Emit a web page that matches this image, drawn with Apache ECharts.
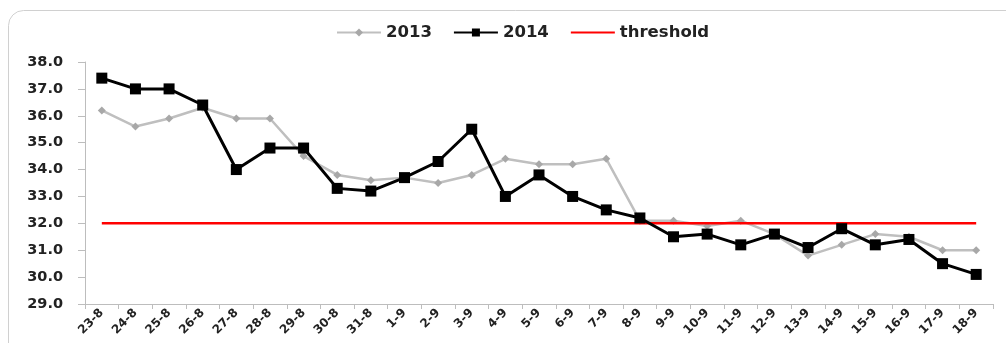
<!DOCTYPE html>
<html>
<head>
<meta charset="utf-8">
<script src="https://cdn.jsdelivr.net/npm/echarts@6/dist/echarts.min.js"></script>
<style>html,body{margin:0;padding:0;background:#fff}#c{width:1006px;height:343px}</style>
</head>
<body>
<div id="c"></div>
<script>
const categories = ['23-8','24-8','25-8','26-8','27-8','28-8','29-8','30-8','31-8','1-9','2-9','3-9','4-9','5-9','6-9','7-9','8-9','9-9','10-9','11-9','12-9','13-9','14-9','15-9','16-9','17-9','18-9'];
const values2013 = [36.2,35.6,35.9,36.3,35.9,35.9,34.5,33.8,33.6,33.7,33.5,33.8,34.4,34.2,34.2,34.4,32.1,32.1,31.9,32.1,31.6,30.8,31.2,31.6,31.5,31.0,31.0];
const values2014 = [37.4,37.0,37.0,36.4,34.0,34.8,34.8,33.3,33.2,33.7,34.3,35.5,33.0,33.8,33.0,32.5,32.2,31.5,31.6,31.2,31.6,31.1,31.8,31.2,31.4,30.5,30.1];
const thresholdValues = [32,32,32,32,32,32,32,32,32,32,32,32,32,32,32,32,32,32,32,32,32,32,32,32,32,32,32];
const yTicks = {min: 29, max: 38, interval: 1};

const chart = echarts.init(document.getElementById('c'), null, {renderer: 'canvas'});
const font = 'DejaVu Sans';
chart.setOption({
  animation: false,
  graphic: [{
    type: 'rect', z: -10,
    shape: {x: 8.5, y: 10.5, width: 1020, height: 360, r: 15},
    style: {fill: '#fff', stroke: '#d0d0d0', lineWidth: 1}
  }],
  legend: {
    top: 19, left: 331,
    itemWidth: 44, itemHeight: 10, itemGap: 21,
    textStyle: {fontFamily: font, fontWeight: 'bold', fontSize: 16.5, color: '#222'},
    data: ['2013', '2014', {name: 'threshold', itemStyle: {color: 'transparent', borderWidth: 0}}]
  },
  grid: {left: 85, right: 13, top: 62, bottom: 39, containLabel: false},
  xAxis: {
    type: 'category', data: categories, boundaryGap: true,
    axisLine: {lineStyle: {color: '#bdbdbd', width: 1}},
    axisTick: {show: true, length: 5, lineStyle: {color: '#bdbdbd'}},
    axisLabel: {rotate: 45, interval: 0, margin: 7, fontFamily: font, fontWeight: 'bold', fontSize: 12, color: '#222'}
  },
  yAxis: {
    type: 'value', min: yTicks.min, max: yTicks.max, interval: yTicks.interval,
    splitLine: {show: false},
    axisLine: {show: true, lineStyle: {color: '#bdbdbd', width: 1}},
    axisTick: {show: true, length: 7, lineStyle: {color: '#bdbdbd'}},
    axisLabel: {margin: 22, fontFamily: font, fontWeight: 'bold', fontSize: 14.5, color: '#222',
      formatter: v => v.toFixed(1)}
  },
  series: [
    {name: '2013', type: 'line', data: values2013, z: 2,
     symbol: 'diamond', symbolSize: 8, showAllSymbol: true,
     lineStyle: {color: '#bfbfbf', width: 2.5},
     itemStyle: {color: '#a8a8a8'}},
    {name: 'threshold', type: 'line', data: thresholdValues, z: 3,
     symbol: 'none', lineStyle: {color: '#ff0000', width: 2.5},
     itemStyle: {color: '#ff0000'}},
    {name: '2014', type: 'line', data: values2014, z: 4,
     symbol: 'rect', symbolSize: 11, showAllSymbol: true,
     lineStyle: {color: '#000', width: 3},
     itemStyle: {color: '#000'}}
  ]
});
</script>
</body>
</html>
